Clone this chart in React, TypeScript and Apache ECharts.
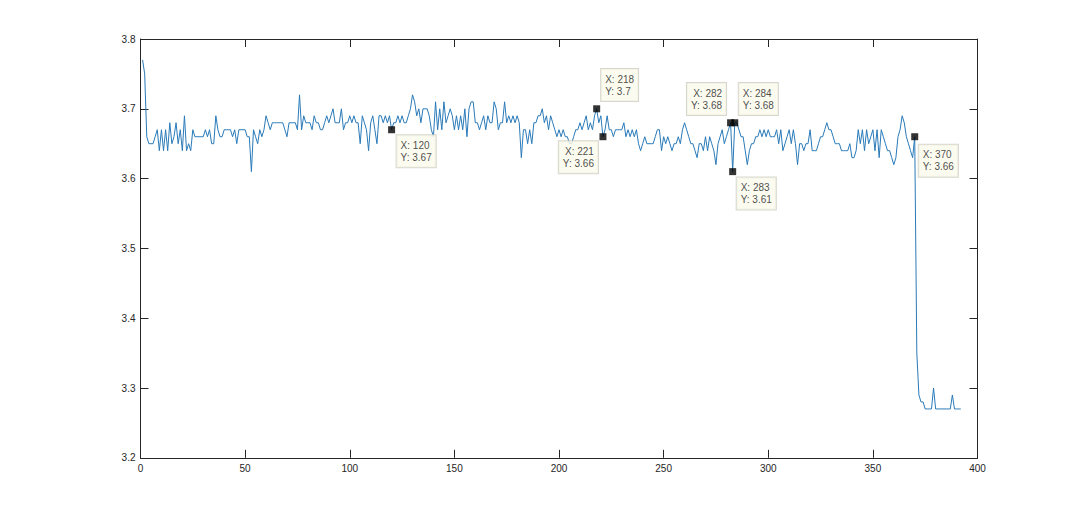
import React, { useEffect, useRef } from "react";
import * as echarts from "echarts";

// Measured values (x = 1 .. 392)
const seg1 = [
  3.77, 3.75, 3.66, 3.65, 3.65, 3.65, 3.66, 3.67, 3.64, 3.67,
  3.64, 3.67, 3.64, 3.68, 3.65, 3.66, 3.68, 3.65, 3.67, 3.64,
  3.69, 3.64, 3.65, 3.64, 3.67, 3.66, 3.66, 3.66, 3.66, 3.66,
  3.67, 3.66, 3.67, 3.65, 3.65, 3.69, 3.67, 3.66, 3.66, 3.67,
  3.67, 3.67, 3.67, 3.66, 3.67, 3.65, 3.67, 3.67, 3.67, 3.67,
  3.66, 3.66, 3.61, 3.67, 3.66, 3.65, 3.67, 3.66, 3.67, 3.69,
  3.68, 3.67, 3.68, 3.68, 3.68, 3.68, 3.68, 3.68, 3.67, 3.66,
  3.68, 3.68, 3.68, 3.68, 3.67, 3.72, 3.67, 3.69, 3.68, 3.68,
  3.68, 3.67, 3.69, 3.68, 3.68, 3.67, 3.67, 3.68, 3.69, 3.68,
  3.69, 3.70, 3.68, 3.68, 3.68, 3.70, 3.67, 3.68, 3.68, 3.69,
];
const seg2 = [
  3.68, 3.69, 3.68, 3.68, 3.65, 3.69, 3.68, 3.67, 3.64, 3.68,
  3.69, 3.67, 3.65, 3.69, 3.69, 3.68, 3.69, 3.68, 3.69, 3.67,
  3.68, 3.68, 3.69, 3.68, 3.69, 3.68, 3.68, 3.69, 3.70, 3.72,
  3.71, 3.69, 3.70, 3.68, 3.70, 3.70, 3.70, 3.69, 3.67, 3.66,
  3.71, 3.67, 3.70, 3.67, 3.71, 3.68, 3.69, 3.70, 3.69, 3.67,
  3.69, 3.67, 3.69, 3.67, 3.70, 3.66, 3.70, 3.71, 3.71, 3.68,
  3.68, 3.67, 3.68, 3.69, 3.67, 3.69, 3.68, 3.68, 3.71, 3.70,
  3.67, 3.68, 3.68, 3.71, 3.68, 3.69, 3.68, 3.69, 3.68, 3.69,
  3.68, 3.63, 3.67, 3.67, 3.65, 3.67, 3.65, 3.68, 3.68, 3.69,
  3.69, 3.70, 3.68, 3.69, 3.67, 3.69, 3.68, 3.67, 3.66, 3.67,
];
const seg3 = [
  3.66, 3.67, 3.66, 3.66, 3.65, 3.65, 3.66, 3.67, 3.67, 3.68,
  3.67, 3.68, 3.69, 3.67, 3.68, 3.67, 3.69, 3.70, 3.68, 3.69,
  3.66, 3.67, 3.69, 3.67, 3.67, 3.66, 3.67, 3.67, 3.67, 3.67,
  3.68, 3.66, 3.67, 3.66, 3.67, 3.66, 3.67, 3.65, 3.64, 3.65,
  3.66, 3.65, 3.65, 3.65, 3.65, 3.66, 3.67, 3.67, 3.64, 3.66,
  3.65, 3.66, 3.65, 3.64, 3.65, 3.65, 3.66, 3.65, 3.67, 3.68,
  3.67, 3.66, 3.65, 3.65, 3.64, 3.63, 3.65, 3.65, 3.64, 3.66,
  3.64, 3.66, 3.65, 3.64, 3.62, 3.65, 3.66, 3.67, 3.65, 3.66,
  3.67, 3.68, 3.61, 3.68, 3.68, 3.67, 3.66, 3.66, 3.64, 3.62,
  3.64, 3.65, 3.65, 3.66, 3.66, 3.67, 3.66, 3.67, 3.66, 3.67,
];
const seg4 = [
  3.66, 3.66, 3.66, 3.67, 3.65, 3.67, 3.64, 3.65, 3.66, 3.67,
  3.65, 3.67, 3.65, 3.62, 3.65, 3.65, 3.64, 3.65, 3.65, 3.67,
  3.64, 3.64, 3.64, 3.65, 3.66, 3.66, 3.67, 3.68, 3.67, 3.67,
  3.66, 3.65, 3.65, 3.65, 3.64, 3.64, 3.64, 3.64, 3.65, 3.63,
  3.63, 3.64, 3.67, 3.65, 3.67, 3.64, 3.67, 3.65, 3.66, 3.67,
  3.64, 3.67, 3.63, 3.67, 3.66, 3.65, 3.64, 3.64, 3.63, 3.62,
  3.63, 3.66, 3.67, 3.69, 3.68, 3.66, 3.65, 3.64, 3.63, 3.66,
  3.35, 3.29, 3.28, 3.28, 3.27, 3.27, 3.27, 3.27, 3.30, 3.27,
  3.27, 3.27, 3.27, 3.27, 3.27, 3.27, 3.27, 3.29, 3.27, 3.27,
  3.27, 3.27,
];
const yValues = [...seg1, ...seg2, ...seg3, ...seg4];

// Data tips
const tipX = [120, 218, 221, 282, 283, 284, 370];
const tipY = [3.67, 3.7, 3.66, 3.68, 3.61, 3.68, 3.66];

// Label placement of each data tip (style only)
const tipPlacement: Array<{ pos: [number, number]; align: string; vAlign: string }> = [
  { pos: [8.5, 9], align: "left", vAlign: "top" },
  { pos: [8, -4.3], align: "left", vAlign: "bottom" },
  { pos: [-1.5, 8], align: "right", vAlign: "top" },
  { pos: [-1, -4.2], align: "right", vAlign: "bottom" },
  { pos: [7.5, 9.5], align: "left", vAlign: "top" },
  { pos: [7.5, -4.2], align: "left", vAlign: "bottom" },
  { pos: [7.5, 11.5], align: "left", vAlign: "top" },
];

const FONT = "'Liberation Sans', Arial, Helvetica, sans-serif";
const AXIS_COLOR = "#262626";

export default function App() {
  const ref = useRef<HTMLDivElement>(null);

  useEffect(() => {
    document.body.style.margin = "0";
    const chart = echarts.init(ref.current!, null, { renderer: "svg" });

    const lineData = yValues.map((v, i) => [i + 1, v]);
    const tipData = tipX.map((x, i) => ({
      value: [x, tipY[i]],
      label: {
        position: tipPlacement[i].pos,
        align: tipPlacement[i].align,
        verticalAlign: tipPlacement[i].vAlign,
      },
    }));

    const axisLine = { show: true, onZero: false, lineStyle: { color: AXIS_COLOR, width: 1 } };
    const axisTick = { show: true, inside: true, length: 8, lineStyle: { color: AXIS_COLOR, width: 1 } };

    const option: any = {
      animation: false,
      backgroundColor: "#ffffff",
      grid: { left: 140.5, right: 102.5, top: 39, bottom: 57.2, containLabel: false },
      xAxis: [
        {
          type: "value",
          min: 0,
          max: 400,
          interval: 50,
          position: "bottom",
          axisLine,
          axisTick,
          splitLine: { show: false },
          axisLabel: { color: AXIS_COLOR, fontSize: 10, margin: 6, fontFamily: FONT },
        },
        {
          type: "value",
          min: 0,
          max: 400,
          interval: 50,
          position: "top",
          axisLine,
          axisTick,
          splitLine: { show: false },
          axisLabel: { show: false },
        },
      ],
      yAxis: [
        {
          type: "value",
          min: 3.2,
          max: 3.8,
          interval: 0.1,
          position: "left",
          axisLine,
          axisTick,
          splitLine: { show: false },
          axisLabel: {
            color: AXIS_COLOR,
            fontSize: 10,
            margin: 5,
            fontFamily: FONT,
            formatter: (v: number) => v.toFixed(1),
          },
        },
        {
          type: "value",
          min: 3.2,
          max: 3.8,
          interval: 0.1,
          position: "right",
          axisLine,
          axisTick,
          splitLine: { show: false },
          axisLabel: { show: false },
        },
      ],
      series: [
        {
          type: "line",
          xAxisIndex: 0,
          yAxisIndex: 0,
          data: lineData,
          showSymbol: false,
          symbol: "none",
          silent: true,
          lineStyle: { color: "#2a7ab8", width: 1 },
          z: 2,
        },
        {
          type: "scatter",
          xAxisIndex: 0,
          yAxisIndex: 0,
          data: tipData,
          symbol: "rect",
          symbolSize: 7,
          itemStyle: { color: "#000000" },
          silent: true,
          z: 5,
          label: {
            show: true,
            formatter: (p: any) => `X: ${p.value[0]}\nY: ${p.value[1]}`,
            fontSize: 10,
            lineHeight: 12,
            fontFamily: FONT,
            color: "#1a1a1a",
            backgroundColor: "#fafaec",
            borderColor: "#cdcdc2",
            borderWidth: 1,
            padding: [4, 4, 4, 4],
          },
        },
      ],
    };

    chart.setOption(option);
    return () => chart.dispose();
  }, []);

  return <div ref={ref} style={{ width: 1080, height: 515 }} />;
}
